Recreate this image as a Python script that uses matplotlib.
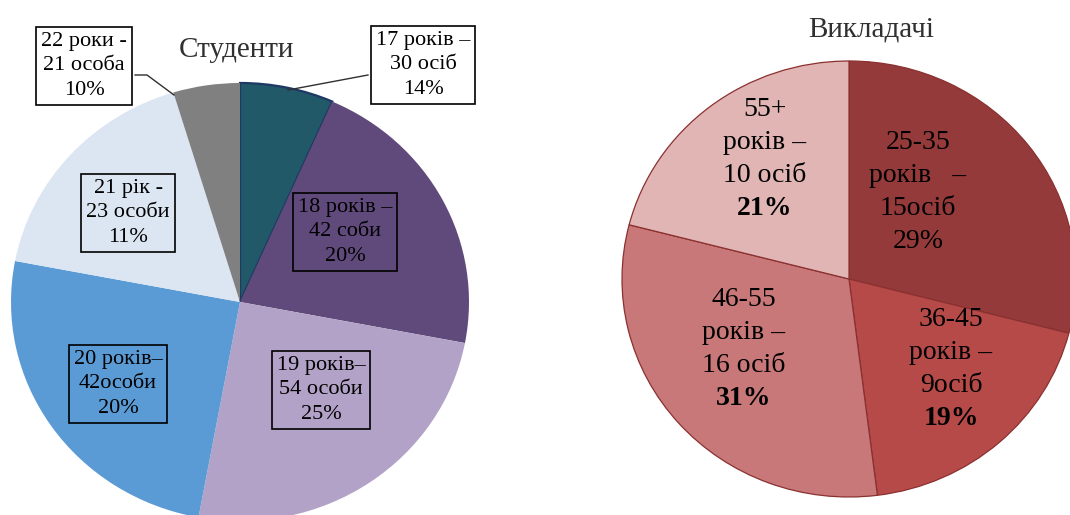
import matplotlib
matplotlib.use("Agg")
import matplotlib.pyplot as plt

plt.rcParams['font.family'] = ['Liberation Serif', 'DejaVu Serif']

# ---------------- data ----------------
stud_labels = ["17 років –\n30 осіб\n14%",
               "18 років –\n42 соби\n20%",
               "19 років–\n54 особи\n25%",
               "20 років–\n42особи\n20%",
               "21 рік -\n23 особи\n11%",
               "22 роки -\n21 особа\n10%"]
stud_values = [6.6, 21.4, 24.9, 25.1, 17.3, 4.7]   # slice sizes as drawn
stud_colors = ["#215968", "#604A7B", "#B3A2C7", "#5B9BD5", "#DCE6F2", "#808080"]

teach_lines = [["25-35", "років   –", "15осіб"],
               ["36-45", "років –", "9осіб"],
               ["46-55", "років –", "16 осіб"],
               ["55+", "років –", "10 осіб"]]
teach_pct = ["29%", "19%", "31%", "21%"]
teach_pct_bold = [False, True, True, True]
teach_values = [29, 19, 31, 21]
teach_colors = ["#953A3A", "#B54A48", "#C87878", "#E0B5B4"]

# ---------------- layout ----------------
W, H = 1070, 515
fig = plt.figure(figsize=(W / 100, H / 100), dpi=100)

def pie_axes(cx, cy, rx, ry, m=1.2):
    ax = fig.add_axes([(cx - rx * m) / W, 1 - (cy + ry * m) / H,
                       2 * rx * m / W, 2 * ry * m / H])
    return ax, m

def to_data(p, cx, cy, rx, ry):
    return ((p[0] - cx) / rx, (cy - p[1]) / ry)

# ---- left pie: Студенти ----
L = dict(cx=240, cy=302, rx=229, ry=219)
axL, mL = pie_axes(**L)
wL, _ = axL.pie(stud_values, colors=stud_colors, startangle=90, counterclock=False,
                wedgeprops=dict(linewidth=0))
wL[0].set_edgecolor("#1F3864")
wL[0].set_linewidth(1.6)
axL.set_aspect('auto')
axL.set_xlim(-mL, mL); axL.set_ylim(-mL, mL)
axL.axis('off')

# label positions (pixel centres) and boxes
lab_pos_L = [(423, 65), (345, 232), (321, 390), (118, 384), (128, 213), (84, 66)]
box_fc = ["white", "none", "none", "none", "none", "white"]
for txt, pos, fc in zip(stud_labels, lab_pos_L, box_fc):
    x, y = to_data(pos, **L)
    axL.text(x, y, txt, ha='center', va='center', fontsize=16, linespacing=1.4,
             color='black', clip_on=False,
             bbox=dict(boxstyle='square,pad=0.22', fc=fc, ec='black', lw=1.2))

# leader lines
for pts in ([(368, 75), (288, 90)], [(135, 75), (147, 75), (174, 95)]):
    d = [to_data(p, **L) for p in pts]
    axL.plot([q[0] for q in d], [q[1] for q in d], color='#303030', lw=1.0,
             clip_on=False, zorder=5)

fig.text(236 / W, 1 - 50 / H, "Студенти", ha='center', va='center',
         fontsize=21, color='#303030')

# ---- right pie: Викладачі ----
R = dict(cx=849, cy=279, rx=227, ry=218)
axR, mR = pie_axes(**R)
wR, _ = axR.pie(teach_values, colors=teach_colors, startangle=90, counterclock=False,
                wedgeprops=dict(linewidth=0.9, edgecolor="#8B3030"))
axR.set_aspect('auto')
axR.set_xlim(-mR, mR); axR.set_ylim(-mR, mR)
axR.axis('off')

lab_pos_R = [(918, 143), (951, 320), (744, 300), (765, 110)]
for lines, pct, bold, pos in zip(teach_lines, teach_pct, teach_pct_bold, lab_pos_R):
    for i, s in enumerate(lines + [pct]):
        x, y = to_data((pos[0], pos[1] + 33 * i), **R)
        fw = 'bold' if (i == 3 and bold) else 'normal'
        axR.text(x, y, s, ha='center', va='center', fontsize=20, fontweight=fw,
                 color='black', clip_on=False)

fig.text(871 / W, 1 - 29 / H, "Викладачі", ha='center', va='center',
         fontsize=21, color='#303030')

fig.savefig("out.png", dpi=100)
